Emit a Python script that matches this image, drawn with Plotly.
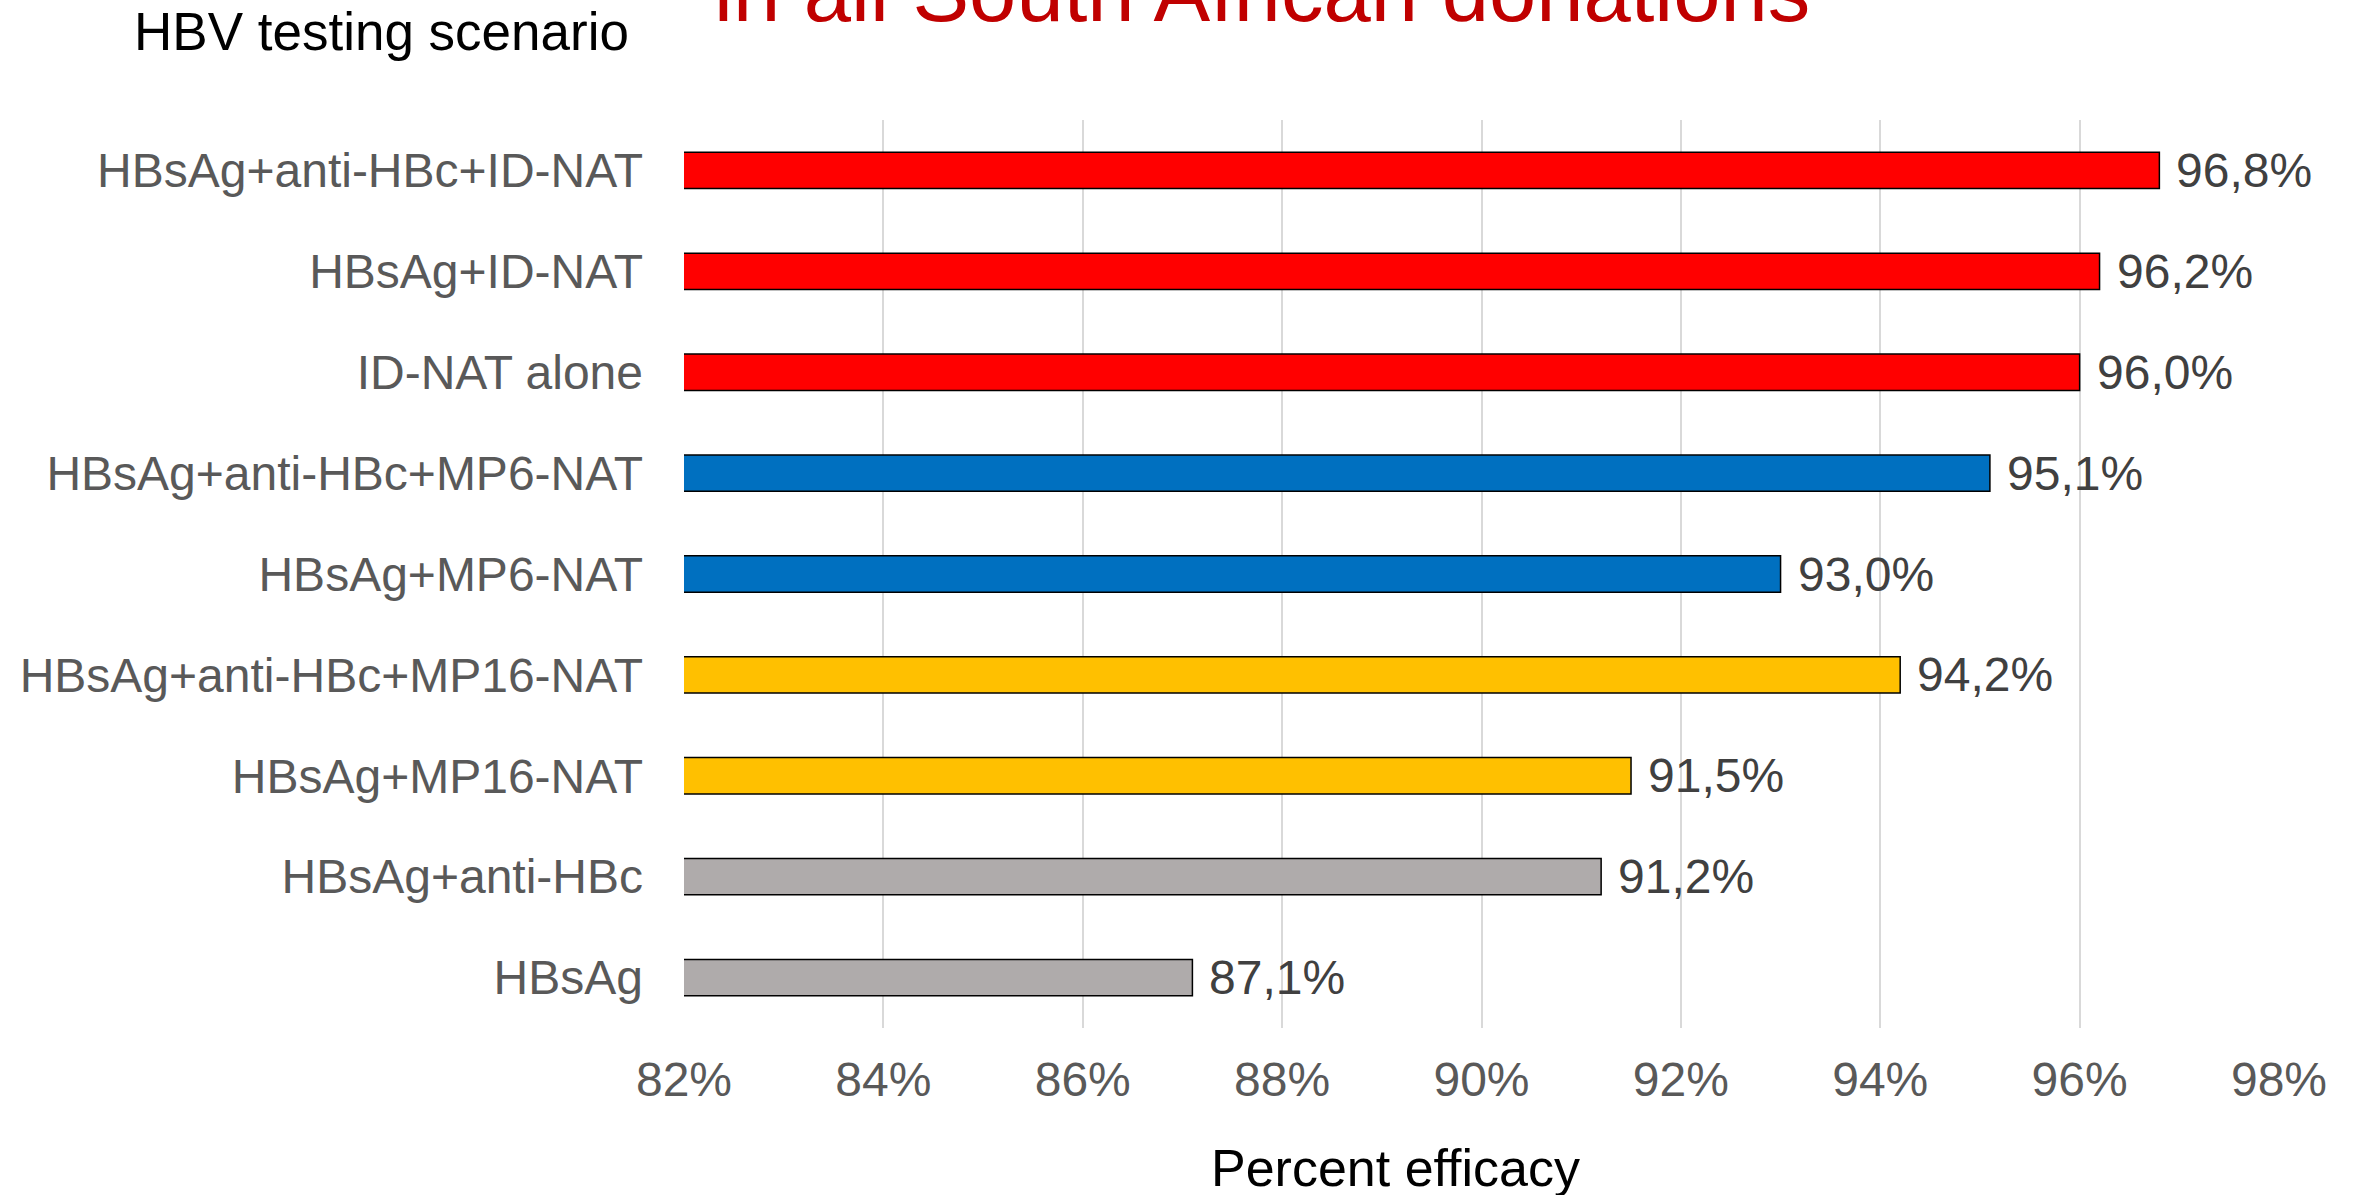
import plotly.graph_objects as go

# HBV testing scenarios, listed top to bottom
scenarios = [
    "HBsAg+anti-HBc+ID-NAT",
    "HBsAg+ID-NAT",
    "ID-NAT alone",
    "HBsAg+anti-HBc+MP6-NAT",
    "HBsAg+MP6-NAT",
    "HBsAg+anti-HBc+MP16-NAT",
    "HBsAg+MP16-NAT",
    "HBsAg+anti-HBc",
    "HBsAg",
]
efficacy = [96.8, 96.2, 96.0, 95.1, 93.0, 94.2, 91.5, 91.2, 87.1]
bar_colors = [
    "#FF0000", "#FF0000", "#FF0000",
    "#0070C0", "#0070C0",
    "#FFC000", "#FFC000",
    "#AFABAB", "#AFABAB",
]
x_ticks = [82, 84, 86, 88, 90, 92, 94, 96, 98]
x_tick_labels = [f"{v}%" for v in x_ticks]

FONT = "Arial, Liberation Sans, sans-serif"

fig = go.Figure(
    go.Bar(
        x=efficacy,
        y=scenarios,
        orientation="h",
        width=0.36,
        marker=dict(color=bar_colors, line=dict(color="#000000", width=1.5)),
        hoverinfo="skip",
    )
)

# value labels to the right of each bar, decimal comma
for name, val in zip(scenarios, efficacy):
    fig.add_annotation(
        x=val, y=name, xref="x", yref="y",
        text=f"{val:.1f}%".replace(".", ","),
        showarrow=False, xanchor="left", yanchor="middle", xshift=15,
        font=dict(family=FONT, size=48, color="#404040"),
    )

# heading texts and axis title
fig.add_annotation(
    x=-0.346, y=1.097, xref="paper", yref="paper",
    text="HBV testing scenario", showarrow=False,
    xanchor="left", yanchor="middle",
    font=dict(family=FONT, size=53, color="#000000"),
)
fig.add_annotation(
    x=0.0176, y=1.141, xref="paper", yref="paper",
    text="in all South African donations", showarrow=False,
    xanchor="left", yanchor="middle",
    font=dict(family=FONT, size=85, color="#C00000"),
)
fig.add_annotation(
    x=0.446, y=-0.154, xref="paper", yref="paper",
    text="Percent efficacy", showarrow=False,
    xanchor="center", yanchor="middle",
    font=dict(family=FONT, size=52, color="#000000"),
)

fig.update_layout(
    width=2353, height=1195,
    margin=dict(l=684, r=74, t=120, b=167),
    paper_bgcolor="white", plot_bgcolor="white",
    showlegend=False,
    font=dict(family=FONT),
    xaxis=dict(
        range=[82, 98],
        tickvals=x_ticks, ticktext=x_tick_labels,
        showgrid=True, gridcolor="#D9D9D9", gridwidth=2,
        zeroline=False, showline=False, ticks="",
        tickfont=dict(family=FONT, size=48, color="#595959"),
        ticklabelstandoff=19,
        fixedrange=True,
    ),
    yaxis=dict(
        categoryorder="array", categoryarray=scenarios,
        autorange="reversed",
        showgrid=False, zeroline=False, showline=False, ticks="",
        tickfont=dict(family=FONT, size=48, color="#595959"),
        ticklabelstandoff=40,
        fixedrange=True,
    ),
)

fig.write_html("out.html")
